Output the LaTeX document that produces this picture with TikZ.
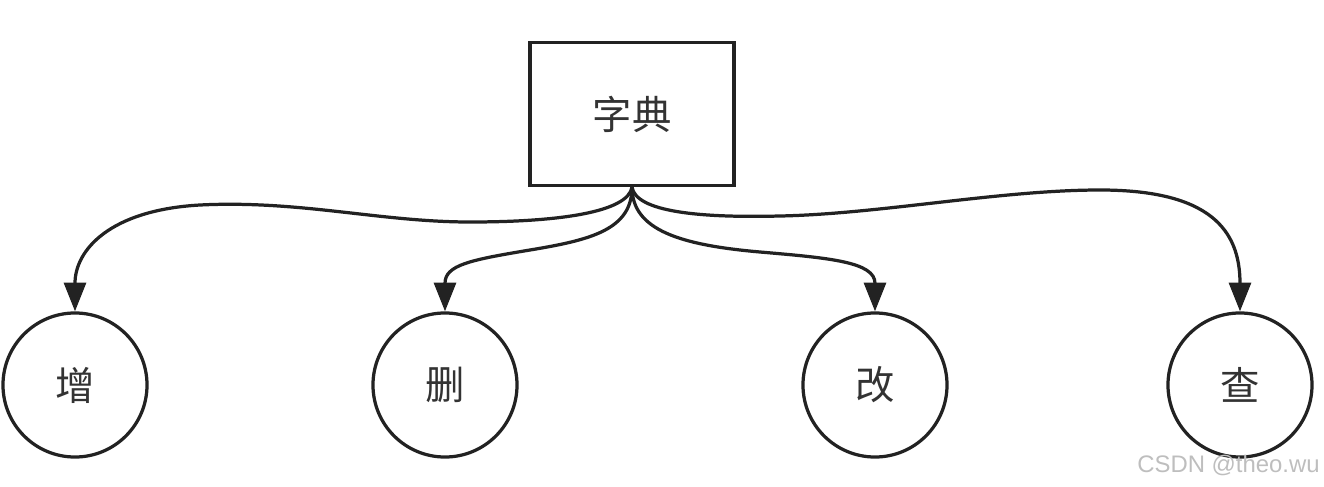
\documentclass[tikz,border=0pt]{standalone}
\usepackage{fontspec}
\newfontfamily\cjk{Noto Sans CJK SC}
\setsansfont{Liberation Sans}
\usetikzlibrary{arrows.meta}

\definecolor{inkline}{RGB}{34,34,34}
\definecolor{inktext}{RGB}{51,51,51}
\definecolor{markgray}{RGB}{190,190,190}

\tikzset{
  dictbox/.style={draw=inkline, line width=2.3pt, fill=white, minimum width=5.1cm, minimum height=3.575cm, inner sep=0pt, font=\cjk\fontsize{28}{28}\selectfont, text=inktext},
  opnode/.style={circle, draw=inkline, line width=2.3pt, fill=white, minimum size=3.6cm, inner sep=0pt, font=\cjk\fontsize{28}{28}\selectfont, text=inktext},
  curvearrow/.style={draw=inkline, line width=2.3pt, -{Triangle[width=0.55cm,length=0.72cm]}}
}

\begin{document}
\begin{tikzpicture}[x=0.025cm, y=-0.025cm]
\useasboundingbox (0,0) rectangle (1324,487);

%% dictionary
\node[dictbox] (dict) at (632,114) {字典};

%% operations
\node[opnode] (zeng) at (75,385) {增};
\node[opnode] (shan) at (445,385) {删};
\node[opnode] (gai) at (875,385) {改};
\node[opnode] (cha) at (1240,385) {查};

%% connectors
\draw[curvearrow] (dict.south) .. controls (628,212) and (560,222) .. (470,222)
  .. controls (380,222) and (300,200) .. (200,205)
  .. controls (110,210) and (75,250) .. (zeng.north);
\draw[curvearrow] (dict.south) .. controls (632,230) and (590,240) .. (530,250)
  .. controls (470,260) and (445,265) .. (shan.north);
\draw[curvearrow] (dict.south) .. controls (632,230) and (680,245) .. (760,252)
  .. controls (830,258) and (875,262) .. (gai.north);
\draw[curvearrow] (dict.south) .. controls (636,212) and (700,218) .. (780,216)
  .. controls (880,214) and (1000,190) .. (1100,190)
  .. controls (1210,190) and (1240,230) .. (cha.north);

%% watermark
\node[anchor=east, text=markgray, font=\sffamily\fontsize{17}{17}\selectfont, inner sep=0pt] (mark) at (1320,465) {CSDN @theo.wu};
\end{tikzpicture}
\end{document}
